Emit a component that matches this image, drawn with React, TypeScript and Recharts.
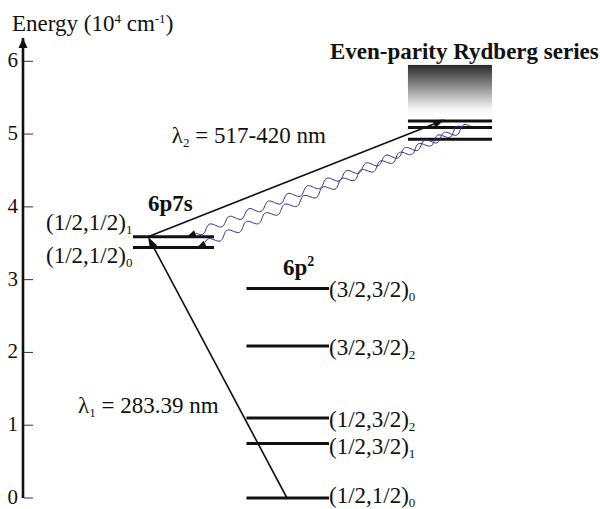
import { ComposedChart, XAxis, YAxis, ReferenceLine, ReferenceDot, ReferenceArea } from "recharts";

// energies in 10^4 cm^-1
const groundTerms = ["(1/2,1/2)", "(1/2,3/2)", "(1/2,3/2)", "(3/2,3/2)", "(3/2,3/2)"];
const groundJ = ["0", "1", "2", "2", "0"];
const groundEnergies = [0, 0.75, 1.1, 2.09, 2.88];

const p7sTerms = ["(1/2,1/2)", "(1/2,1/2)"];
const p7sJ = ["0", "1"];
const p7sEnergies = [3.44, 3.59];

const rydbergEnergies = [4.93, 5.09, 5.18];
const rydbergBand = [5.26, 5.95];

const lambda1 = "283.39";
const lambda2 = "517-420";
const energyTicks = [0, 1, 2, 3, 4, 5, 6];

const FONT = "'Liberation Serif', 'Times New Roman', serif";
const Y_MAX = 6.32;
const TXT = 23;

// horizontal columns (abstract units 0..100)
const COL = {
  p7s: [19.06, 33.1],
  p2: [38.73, 53.03],
  ryd: [66.72, 81.28],
};

// baseline offsets (px) for the level labels
const groundLabelDy = [5, 11, 9, 9, 9];
const p7sLabelDy = [15, -7];

function headPoints(x1: number, y1: number, x2: number, y2: number, len: number, half: number) {
  const dx = x2 - x1;
  const dy = y2 - y1;
  const L = Math.hypot(dx, dy) || 1;
  const ux = dx / L;
  const uy = dy / L;
  const bx = x2 - ux * len;
  const by = y2 - uy * len;
  return {
    bx,
    by,
    pts: `${x2},${y2} ${bx - uy * half},${by + ux * half} ${bx + uy * half},${by - ux * half}`,
  };
}

const StraightArrow = (p: any) => {
  const { x1, y1, x2, y2 } = p;
  const h = headPoints(x1, y1, x2, y2, 12, 4);
  return (
    <g>
      <line x1={x1} y1={y1} x2={h.bx} y2={h.by} stroke="#111" strokeWidth={1.6} />
      <polygon points={h.pts} fill="#111" />
    </g>
  );
};

const WavyArrow = (p: any) => {
  const { x1, y1, x2, y2 } = p;
  const h = headPoints(x1, y1, x2, y2, 9, 3.5);
  const dx = h.bx - x1;
  const dy = h.by - y1;
  const L = Math.hypot(dx, dy);
  const ux = dx / L;
  const uy = dy / L;
  const amp = 3.5;
  const period = 21;
  let d = "";
  for (let s = 0; s <= L; s += 1) {
    const off = amp * Math.sin((2 * Math.PI * s) / period);
    const px = x1 + ux * s - uy * off;
    const py = y1 + uy * s + ux * off;
    d += (s === 0 ? "M" : "L") + px.toFixed(2) + "," + py.toFixed(2);
  }
  return (
    <g>
      <path d={d} fill="none" stroke="#2e2e86" strokeWidth={1} />
      <line x1={h.bx} y1={h.by} x2={x2} y2={y2} stroke="#111" strokeWidth={1} />
      <polygon points={h.pts} fill="#111" />
    </g>
  );
};

const AxisHead = (p: any) => {
  const { x1, y1, x2, y2 } = p;
  const h = headPoints(x1, y1, x2, y2, 10, 4.5);
  return <polygon points={h.pts} fill="#111" />;
};

const makeText =
  (content: any, opts: { size?: number; bold?: boolean; anchor?: string; dy?: number } = {}) =>
  (p: any) =>
    (
      <text
        x={p.cx}
        y={p.cy + (opts.dy || 0)}
        fontSize={opts.size || TXT}
        fontWeight={opts.bold ? "bold" : "normal"}
        textAnchor={opts.anchor || "start"}
        fontFamily={FONT}
        fill="#111"
      >
        {content}
      </text>
    );

const termWithJ = (term: string, j: string) => (
  <>
    {term}
    <tspan dy={4} fontSize={13}>
      {j}
    </tspan>
  </>
);

const EnergyTick = (p: any) => {
  const { x, y, payload } = p;
  return (
    <g>
      <line x1={x + 1} x2={x + 10} y1={y} y2={y} stroke="#333" strokeWidth={1} />
      <text x={x - 5} y={y + 6} textAnchor="end" fontSize={21} fontFamily={FONT} fill="#111">
        {payload.value}
      </text>
    </g>
  );
};

const EnergyTitle = (p: any) => {
  const vb = p.viewBox || { x: 0, y: 38 };
  return (
    <text x={vb.x + 12} y={vb.y - 7} fontSize={TXT} fontFamily={FONT} fill="#111">
      Energy (10
      <tspan dy={-8} fontSize={13}>
        4
      </tspan>
      <tspan dy={8}> cm</tspan>
      <tspan dy={-8} fontSize={13}>
        -1
      </tspan>
      <tspan dy={8}>)</tspan>
    </text>
  );
};

const BandShape = (p: any) => (
  <g>
    <defs>
      <linearGradient id="rydGrad" x1="0" y1="0" x2="0" y2="1">
        <stop offset="0%" stopColor="#2a2a2a" />
        <stop offset="88%" stopColor="#f6f6f6" />
        <stop offset="100%" stopColor="#ffffff" />
      </linearGradient>
    </defs>
    <rect x={p.x} y={p.y} width={p.width} height={p.height} fill="url(#rydGrad)" />
  </g>
);

export default function App() {
  const levelStroke = { stroke: "#111", strokeWidth: 3 };
  return (
    <div style={{ position: "absolute", left: 0, top: 0, width: 600, height: 509, background: "#fff" }}>
      <ComposedChart width={600} height={509} data={[]} margin={{ top: 38, right: 0, bottom: 11, left: 0 }}>
        <XAxis type="number" dataKey="x" domain={[0, 100]} allowDataOverflow hide />
        <YAxis
          type="number"
          domain={[0, Y_MAX]}
          allowDataOverflow
          ticks={energyTicks}
          width={23}
          tickSize={0}
          tickMargin={0}
          tickLine={false}
          axisLine={{ stroke: "#111", strokeWidth: 2.6 }}
          tick={<EnergyTick />}
          label={<EnergyTitle />}
        />

        <ReferenceLine segment={[{ x: 0, y: Y_MAX - 0.2 }, { x: 0, y: Y_MAX }]} shape={AxisHead} />

        <ReferenceArea
          x1={COL.ryd[0]}
          x2={COL.ryd[1]}
          y1={rydbergBand[0]}
          y2={rydbergBand[1]}
          shape={BandShape}
        />

        {groundEnergies.map((e, i) => (
          <ReferenceLine key={`g${i}`} segment={[{ x: COL.p2[0], y: e }, { x: COL.p2[1], y: e }]} {...levelStroke} />
        ))}
        {p7sEnergies.map((e, i) => (
          <ReferenceLine key={`s${i}`} segment={[{ x: COL.p7s[0], y: e }, { x: COL.p7s[1], y: e }]} {...levelStroke} />
        ))}
        {rydbergEnergies.map((e, i) => (
          <ReferenceLine key={`r${i}`} segment={[{ x: COL.ryd[0], y: e }, { x: COL.ryd[1], y: e }]} {...levelStroke} />
        ))}

        {/* excitation steps */}
        <ReferenceLine
          segment={[{ x: 45.75, y: groundEnergies[0] }, { x: 21.66, y: p7sEnergies[1] }]}
          shape={StraightArrow}
        />
        <ReferenceLine
          segment={[{ x: 21.66, y: p7sEnergies[1] }, { x: 73.14, y: rydbergEnergies[2] + 0.02 }]}
          shape={StraightArrow}
        />

        {/* decay back to 6p7s */}
        <ReferenceLine segment={[{ x: 77.47, y: 5.11 }, { x: 28.42, y: p7sEnergies[1] }]} shape={WavyArrow} />
        <ReferenceLine segment={[{ x: 76.26, y: 5.09 }, { x: 30.16, y: p7sEnergies[0] }]} shape={WavyArrow} />

        {/* level labels */}
        {groundEnergies.map((e, i) => (
          <ReferenceDot
            key={`gl${i}`}
            x={COL.p2[1]}
            y={e}
            r={0}
            shape={makeText(termWithJ(groundTerms[i], groundJ[i]), { dy: groundLabelDy[i] })}
          />
        ))}
        {p7sEnergies.map((e, i) => (
          <ReferenceDot
            key={`sl${i}`}
            x={3.99}
            y={e}
            r={0}
            shape={makeText(termWithJ(p7sTerms[i], p7sJ[i]), { dy: p7sLabelDy[i] })}
          />
        ))}

        <ReferenceDot x={21.66} y={3.95} r={0} shape={makeText("6p7s", { bold: true })} />
        <ReferenceDot
          x={45.06}
          y={3.07}
          r={0}
          shape={makeText(
            <>
              6p
              <tspan dy={-9} fontSize={14}>
                2
              </tspan>
            </>,
            { bold: true }
          )}
        />
        <ReferenceDot
          x={53.2}
          y={6.03}
          r={0}
          shape={makeText("Even-parity Rydberg series", { bold: true })}
        />
        <ReferenceDot
          x={25.8}
          y={4.88}
          r={0}
          shape={makeText(
            <>
              λ<tspan dy={4} fontSize={13}>2</tspan>
              <tspan dy={-4}> = {lambda2} nm</tspan>
            </>
          )}
        />
        <ReferenceDot
          x={9.53}
          y={1.17}
          r={0}
          shape={makeText(
            <>
              λ<tspan dy={4} fontSize={13}>1</tspan>
              <tspan dy={-4}> = {lambda1} nm</tspan>
            </>
          )}
        />
      </ComposedChart>
    </div>
  );
}
